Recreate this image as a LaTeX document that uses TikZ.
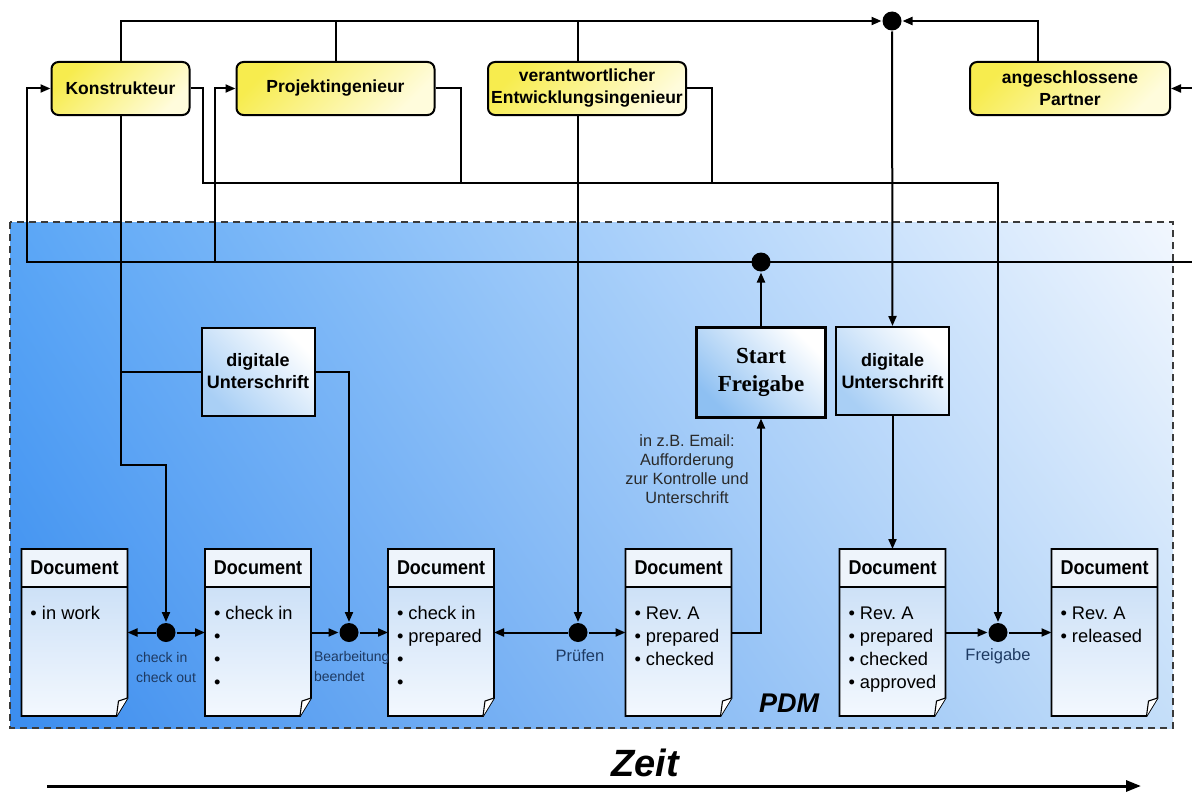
\documentclass[tikz,border=0pt]{standalone}
\usepackage{fontspec}
\setmainfont{Liberation Sans}
\newfontfamily\headfont{Liberation Sans}[FakeStretch=0.9]
\newfontfamily\timesfont{Liberation Serif}
\usetikzlibrary{arrows.meta,calc,shadings}
\frenchspacing

\definecolor{bgUL}{HTML}{5AA6F6}
\definecolor{bgLL}{HTML}{3B8DEF}
\definecolor{bgUR}{HTML}{F2F7FE}
\definecolor{bgLR}{HTML}{C4DEF9}
\definecolor{yelA}{HTML}{F7EC4E}
\definecolor{yelB}{HTML}{FFFCDC}
\definecolor{docA}{HTML}{C2DAF5}
\definecolor{docB}{HTML}{F3F8FE}
\definecolor{docHead}{HTML}{EEF4FB}
\definecolor{boxBlue}{HTML}{A9CFF5}
\definecolor{sfBlue}{HTML}{8EC0F2}
\definecolor{labelBlue}{HTML}{1E3A62}
\definecolor{noteGray}{HTML}{2A2A2A}
\definecolor{frameGray}{HTML}{3A3A3A}

% one document sheet with a folded lower right corner
\newcommand{\docpage}[3]{%
  \node[docframe] (#1) at (#2,632.5) {};
  \shade[docbody] (#1.north west) -- (#1.north east) -- ($(#1.south east)+(0,-18)$)
    -- ($(#1.south east)+(-11,0)$) -- (#1.south west) -- cycle;
  \fill[docHead] (#1.north west) rectangle ($(#1.north east)+(0,38)$);
  \draw[line width=1.8pt] (#1.north west) -- (#1.north east) -- ($(#1.south east)+(0,-18)$)
    -- ($(#1.south east)+(-11,0)$) -- (#1.south west) -- cycle;
  \draw[line width=1.8pt] ($(#1.north west)+(0,38)$) -- ($(#1.north east)+(0,38)$);
  \filldraw[fill=white, line width=1.1pt, line join=round] ($(#1.south east)+(0,-18)$)
    -- ($(#1.south east)+(-9,-15)$) -- ($(#1.south east)+(-11,0)$);
  \node[dochead] at ($(#1.north)+(0,19)$) {Document};
  \foreach \t [count=\i] in {#3}
    \node[docitem] at ($(#1.north west)+(8,47+23*\i)$) {\textbullet\ \t};
}

\begin{document}
\begin{tikzpicture}[x=1pt, y=-1pt, line width=2pt,
  >={Triangle[length=10pt,width=8pt]},
  role/.style={draw, rounded corners=7pt, line width=2pt,
    top color=yelA, bottom color=yelB, shading angle=45,
    minimum height=53pt, inner sep=0pt, align=center,
    font=\bfseries\fontsize{17.5}{22}\selectfont},
  signbox/.style={draw, line width=2pt, top color=white, bottom color=boxBlue,
    shading angle=-45, minimum width=113pt, minimum height=88pt, inner sep=0pt,
    align=center, font=\bfseries\fontsize{18}{22}\selectfont},
  startbox/.style={draw, line width=3pt, top color=white, bottom color=sfBlue,
    shading angle=-45, minimum width=129pt, minimum height=90pt, inner sep=0pt,
    align=center, font=\timesfont\bfseries\fontsize{23}{28}\selectfont},
  docframe/.style={minimum width=104pt, minimum height=165pt, inner sep=0pt},
  docbody/.style={top color=docA, bottom color=docB},
  dochead/.style={font=\headfont\bfseries\fontsize{20}{22}\selectfont, inner sep=0pt},
  docitem/.style={anchor=base west, inner sep=0pt, font=\fontsize{18.3}{22}\selectfont},
  junction/.style={circle, fill=black, minimum size=19pt, inner sep=0pt},
  steplabel/.style={inner sep=0pt, text=labelBlue, align=left,
    font=\fontsize{14}{19.5}\selectfont},
  eventlabel/.style={inner sep=0pt, text=labelBlue, anchor=base,
    font=\fontsize{16.5}{20}\selectfont},
  note/.style={inner sep=0pt, text=noteGray, align=center,
    font=\fontsize{16.3}{18.7}\selectfont}]

\useasboundingbox (0,0) rectangle (1192,792);

% PDM area
\shade[upper left=bgUL, lower left=bgLL, upper right=bgUR, lower right=bgLR]
  (10,222) rectangle (1173,728);
\draw[frameGray, line width=1.3pt, dash pattern=on 7pt off 5pt] (10,222) rectangle (1173,728);
\node[font=\bfseries\itshape\fontsize{27}{30}\selectfont] (pdm) at (789,703) {PDM};

% roles
\node[role, minimum width=138pt] (kon) at (120.5,88.5) {Konstrukteur};
\node[role, minimum width=198pt] (proj) at (335.5,88.5) {Projektingenieur};
\node[role, minimum width=198pt] (ver) at (587,88.5) {verantwortlicher\\Entwicklungsingenieur};
\node[role, minimum width=200pt] (par) at (1070,88.5) {angeschlossene\\Partner};

% signature and release boxes
\node[signbox] (dig1) at (258,371.5) {digitale\\Unterschrift};
\node[signbox] (dig2) at (892.5,371) {digitale\\Unterschrift};
\node[startbox] (sf) at (761,372) {Start\\Freigabe};

% junctions
\node[junction] (dotTop) at (892,21) {};
\node[junction] (dotMid) at (761,262) {};
\node[junction] (dot1) at (166,632.5) {};
\node[junction] (dot2) at (349,632.5) {};
\node[junction] (dotP) at (578,632.5) {};
\node[junction] (dotF) at (998,632.5) {};

% documents
\docpage{d1}{74.5}{in work}
\docpage{d2}{258}{check in,,,}
\docpage{d3}{441}{check in,prepared,,}
\docpage{d4}{678.5}{Rev. A,prepared,checked}
\docpage{d5}{892.5}{Rev. A,prepared,checked,approved}
\docpage{d6}{1104.5}{Rev. A,released}

% free line ends
\coordinate (busR) at (1192,262);
\coordinate (busL) at (27,262);
\coordinate (pJ) at (215,262);
\coordinate (edgeP) at (1192,88.5);
\coordinate (kc) at (203,183);
\coordinate (fc) at (998,183);
\coordinate (ks) at (120.5,465);

% connectors at the top
\draw[->] (kon.north) |- (dotTop);
\draw (proj.north) -- (proj.north |- dotTop);
\draw (ver.north -| dotP) -- (dotP |- dotTop);
\draw[->] ($(par.north)+(-32,0)$) |- (dotTop);
\draw[->] (edgeP) -- (par.east);
\draw[->] (dotTop) -- (dig2.north);

% feedback bus
\draw[->] (busR) -- (busL) |- (kon.west);
\draw[->] (pJ) |- (proj.west);
\draw[->] (sf.north) -- (dotMid);

% release line
\draw[->] (kon.east) -| (kc) -- (fc) -- (dotF);
\draw (proj.east) -| (461,183);
\draw (ver.east) -| (712,183);

% check in / check out and signature
\draw[->] (kon.south) -- (ks) -| (dot1);
\draw (kon.south |- dig1.west) -- (dig1.west);
\draw[->] (dig1.east) -| (dot2);
\draw[->] (ver.south -| dotP) -- (dotP);
\draw[->] (d4.east) -| (sf.south);
\draw[->] (dig2.south) -- (d5.north);

% document flow
\draw[->] (dot1) -- (d1.east);
\draw[->] (dot1) -- (d2.west);
\draw[->] (d2.east) -- (dot2);
\draw[->] (dot2) -- (d3.west);
\draw[->] (dotP) -- (d3.east);
\draw[->] (dotP) -- (d4.west);
\draw[->] (d5.east) -- (dotF);
\draw[->] (dotF) -- (d6.west);

% labels (base anchor of a multi-line node sits on its last line)
\node[steplabel, anchor=base west] (lab1) at (135,682) {check in\\check out};
\node[steplabel, anchor=base west] (lab2) at (313,681) {Bearbeitung\\beendet};
\node[eventlabel] (lab3) at (580,661) {Prüfen};
\node[eventlabel] (lab4) at (998,660) {Freigabe};
\node[note, anchor=base] (mail) at (687,503) {in z.B. Email:\\Aufforderung\\zur Kontrolle und\\Unterschrift};

% time axis
\coordinate (t0) at (47,786);
\coordinate (t1) at (1141,786);
\draw[line width=3pt, -{Triangle[length=15pt,width=11pt]}] (t0) -- (t1);
\node[font=\bfseries\itshape\fontsize{38}{40}\selectfont, anchor=base] (zeit) at (645,776) {Zeit};

\end{tikzpicture}
\end{document}
